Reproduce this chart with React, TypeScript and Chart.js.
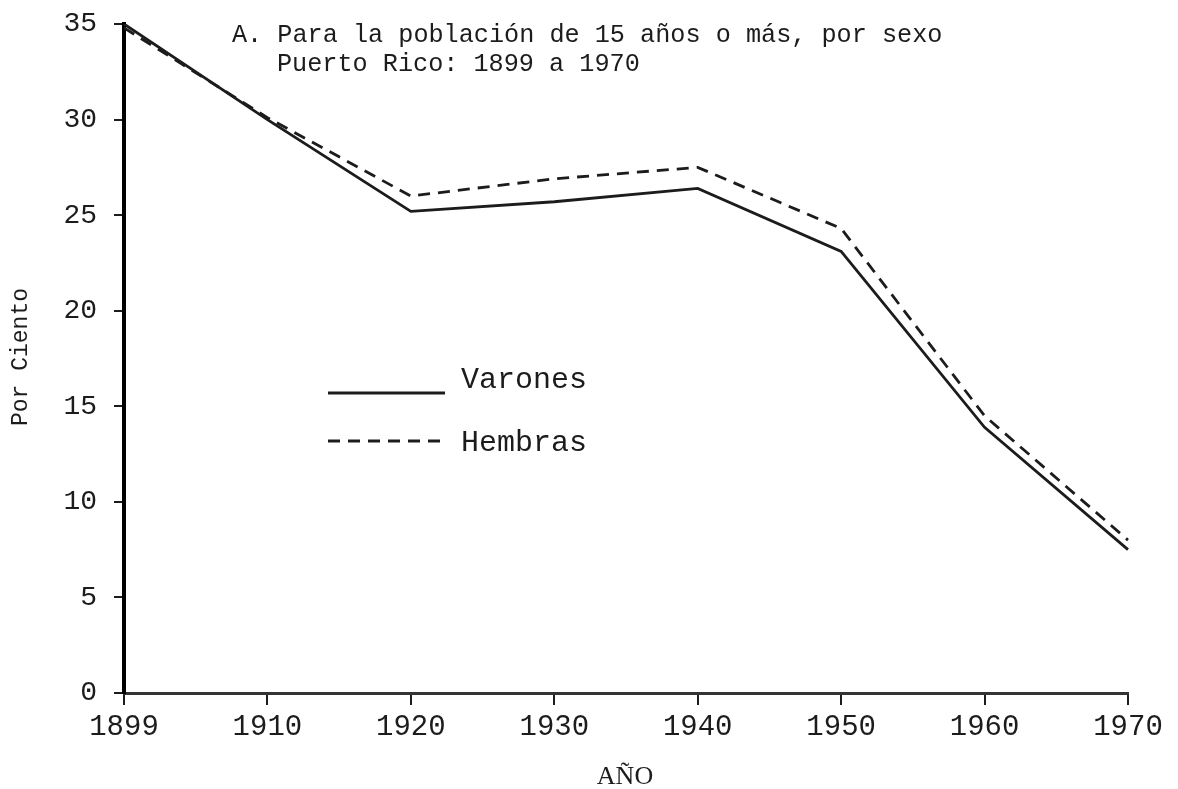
import React, { useEffect, useRef } from "react";
import { Chart, registerables } from "chart.js";

Chart.register(...registerables);

const years = ["1899", "1910", "1920", "1930", "1940", "1950", "1960", "1970"];
const varones = [35.0, 30.0, 25.2, 25.7, 26.4, 23.1, 13.9, 7.5];
const hembras = [34.8, 30.1, 26.0, 26.9, 27.5, 24.3, 14.5, 8.0];
const yMin = 0;
const yMax = 35;
const yStep = 5;
const titleLine1 = "A. Para la población de 15 años o más, por sexo";
const titleLine2 = "Puerto Rico: 1899 a 1970";
const yTitle = "Por Ciento";
const xTitle = "AÑO";
const legendLabels = ["Varones", "Hembras"];

const MONO = '"Liberation Mono", "DejaVu Sans Mono", monospace';
const SERIF = '"Liberation Serif", "DejaVu Serif", serif';
const INK = "#1c1c1c";

const textPlugin = {
  id: "textPlugin",
  afterDraw(chart: any) {
    const ctx = chart.ctx;
    ctx.save();
    ctx.fillStyle = INK;
    ctx.textBaseline = "alphabetic";
    ctx.textAlign = "left";
    ctx.font = `25.2px ${MONO}`;
    ctx.fillText(titleLine1, 232, 42);
    ctx.fillText(titleLine2, 277, 71);

    const ds = chart.data.datasets;
    const rows = [
      { lineY: 393, textY: 388 },
      { lineY: 441, textY: 451 },
    ];
    ds.forEach((d: any, i: number) => {
      ctx.save();
      ctx.strokeStyle = d.borderColor;
      ctx.lineWidth = d.borderWidth;
      ctx.setLineDash(d.borderDash || []);
      ctx.beginPath();
      ctx.moveTo(328, rows[i].lineY);
      ctx.lineTo(445, rows[i].lineY);
      ctx.stroke();
      ctx.restore();
      ctx.font = `30px ${MONO}`;
      ctx.fillText(legendLabels[i], 461, rows[i].textY);
    });

    ctx.save();
    ctx.translate(27, 357);
    ctx.rotate(-Math.PI / 2);
    ctx.textAlign = "center";
    ctx.font = `23px ${MONO}`;
    ctx.fillText(yTitle, 0, 0);
    ctx.restore();

    ctx.textAlign = "center";
    ctx.font = `26px ${SERIF}`;
    ctx.fillText(xTitle, 625, 784);
    ctx.restore();
  },
};

export default function App() {
  const ref = useRef<HTMLCanvasElement | null>(null);
  useEffect(() => {
    if (!ref.current) return;
    const chart = new Chart(ref.current, {
      type: "line",
      data: {
        labels: years,
        datasets: [
          { label: legendLabels[0], data: varones, borderColor: INK, borderWidth: 2.8, pointRadius: 0, tension: 0, fill: false },
          { label: legendLabels[1], data: hembras, borderColor: INK, borderWidth: 2.8, borderDash: [12, 8], pointRadius: 0, tension: 0, fill: false },
        ],
      },
      options: {
        animation: false,
        responsive: false,
        devicePixelRatio: 1,
        layout: { autoPadding: false, padding: { top: 24, right: 50, left: 0, bottom: 0 } },
        plugins: { legend: { display: false }, title: { display: false }, tooltip: { enabled: false } },
        scales: {
          x: {
            type: "category",
            offset: false,
            grid: { display: true, drawOnChartArea: false, drawTicks: true, tickLength: 12, color: INK, lineWidth: 2 },
            border: { display: true, color: "#333", width: 3 },
            ticks: { color: INK, font: { family: MONO, size: 29 }, padding: 5, maxRotation: 0, autoSkip: false },
            afterFit: (s: any) => {
              s.height = 96;
              s.paddingLeft = 0;
              s.paddingRight = 0;
            },
          },
          y: {
            min: yMin,
            max: yMax,
            grid: { display: true, drawOnChartArea: false, drawTicks: true, tickLength: 10, color: INK, lineWidth: 2 },
            border: { display: true, color: "#000", width: 4 },
            ticks: { stepSize: yStep, color: INK, font: { family: MONO, size: 28 }, padding: 17 },
            afterFit: (s: any) => {
              s.width = 124;
              s.paddingTop = 0;
              s.paddingBottom = 0;
            },
          },
        },
      },
      plugins: [textPlugin],
    });
    return () => chart.destroy();
  }, []);
  return (
    <div style={{ position: "absolute", left: 0, top: 0, width: 1178, height: 789, background: "#fff" }}>
      <canvas ref={ref} width={1178} height={789} />
    </div>
  );
}
